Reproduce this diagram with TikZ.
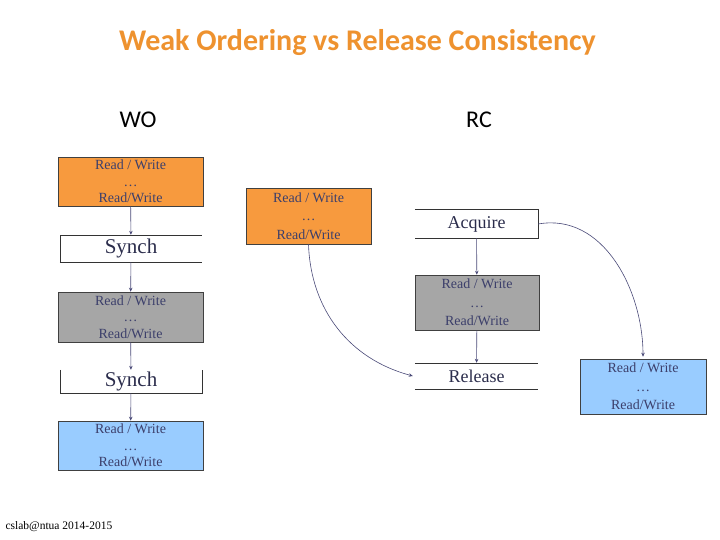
\documentclass[tikz,border=0pt]{standalone}
\usepackage{fontspec}
\setmainfont{Liberation Serif}
\newfontfamily\calibri{Carlito}
\usetikzlibrary{positioning,arrows.meta}
\definecolor{slorange}{HTML}{F79A3E}
\definecolor{slgray}{HTML}{A6A6A6}
\definecolor{slblue}{HTML}{99CCFF}
\definecolor{sltitle}{HTML}{EE922F}
\definecolor{sltext}{HTML}{3C3F6B}
\definecolor{slarrow}{HTML}{4A4A78}
\newcommand{\rwtext}{Read / Write\\\ldots\\Read/Write}

\begin{document}
\begin{tikzpicture}[x=1pt, y=1pt,
    rwbox/.style={draw=black!75, line width=0.6pt, inner sep=0pt, align=center, text=sltext,
        font=\fontsize{14}{16.5}\selectfont},
    rcbox/.style={rwbox, font=\fontsize{14}{18.5}\selectfont},
    syncbox/.style={inner sep=0pt, text=sltext!70!black, font=\fontsize{18}{20}\selectfont},
    conn/.style={slarrow, line width=0.6pt, -{Stealth[length=4pt, width=3.5pt]}},
    side/.style={black!80, line width=0.6pt},
    head/.style={font=\calibri\fontsize{24}{26}\selectfont},
]
\useasboundingbox (0,0) rectangle (720,-540);

\node[font=\calibri\bfseries\fontsize{30}{32}\selectfont, text=sltitle] (title) at (357.5,-43) {Weak Ordering vs Release Consistency};
\node[head] (wo) at (138,-120) {WO};
\node[head] (rc) at (479,-120) {RC};

% weak ordering
\node[rwbox, fill=slorange, minimum width=145pt, minimum height=49pt] (wo1) at (130.5,-181.5) {\rwtext};
\node[syncbox, font=\fontsize{21}{22}\selectfont, minimum width=142pt, minimum height=27pt] (wos1) at (131,-248.5) {Synch};
\node[rwbox, fill=slgray, minimum width=145pt, minimum height=50pt] (wo2) at (130.5,-317) {\rwtext};
\node[syncbox, font=\fontsize{21}{22}\selectfont, minimum width=142pt, minimum height=23pt] (wos2) at (131,-381.5) {Synch};
\node[rwbox, fill=slblue, minimum width=145pt, minimum height=49pt] (wo3) at (130.5,-445.5) {\rwtext};
\draw[side] (wos1.south west) -- (wos1.north west) -- (wos1.north east);
\draw[side] (wos1.south west) -- (wos1.south east);
\draw[side] (wos2.north west) -- (wos2.south west) -- (wos2.south east) -- (wos2.north east);

\draw[conn] (wo1) -- (wos1);
\draw[conn] (wos1) -- (wo2);
\draw[conn] (wo2) -- (wos2);
\draw[conn] (wos2) -- (wo3);

% release consistency
\node[rcbox, fill=slorange, minimum width=125pt, minimum height=56pt] (rc1) at (308.5,-216) {\rwtext};
\node[syncbox, minimum width=123pt, minimum height=28pt] (acq) at (476.5,-224) {Acquire};
\node[rcbox, fill=slgray, minimum width=124pt, minimum height=55pt] (rc2) at (477,-302.5) {\rwtext};
\node[syncbox, minimum width=123pt, minimum height=26pt] (rel) at (476.5,-376) {Release};
\node[rcbox, fill=slblue, minimum width=126pt, minimum height=55pt] (rc3) at (643,-386.5) {\rwtext};
\draw[side] (acq.north west) -- (acq.north east) -- (acq.south east) -- (acq.south west);
\draw[side] (rel.north west) -- (rel.north east);
\draw[side] (rel.south west) -- (rel.south east);

\draw[conn] (acq) -- (rc2);
\draw[conn] (rc2) -- (rel);
\draw[conn] (rc1.south) to[out=-88, in=165] ([xshift=-2pt]rel.west);
\draw[conn] (acq.east) to[out=10, in=90] ([yshift=2pt]rc3.north);

\node[anchor=west, font=\fontsize{11.5}{12}\selectfont] (foot) at (2,-527) {cslab@ntua 2014-2015};
\end{tikzpicture}
\end{document}
